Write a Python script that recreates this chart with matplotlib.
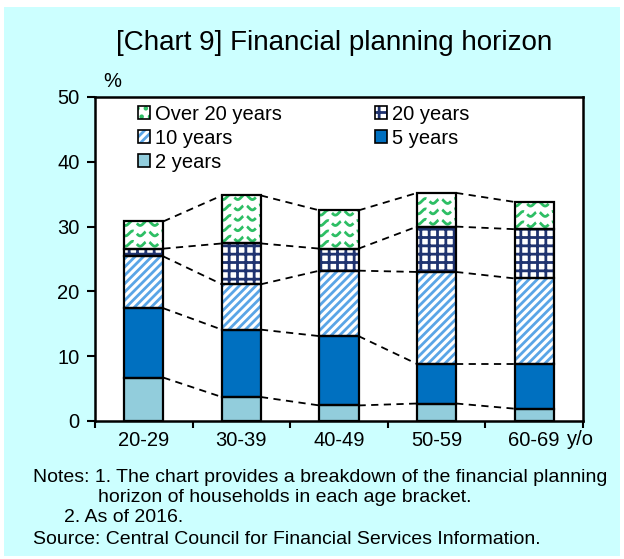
import numpy as np
import matplotlib.pyplot as plt
from matplotlib.patches import Patch, Rectangle

plt.rcParams['font.family'] = ['Liberation Sans', 'DejaVu Sans']
plt.rcParams['hatch.linewidth'] = 2.0

# ---------------------------------------------------------------------------
# DATA (% of households)
# ---------------------------------------------------------------------------
ages = ["20-29", "30-39", "40-49", "50-59", "60-69"]
two_yr = [6.7, 3.7, 2.4, 2.7, 1.9]
five_yr = [10.7, 10.4, 10.7, 6.1, 6.9]
ten_yr = [8.0, 7.0, 10.1, 14.2, 13.2]
twenty_yr = [1.2, 6.3, 3.4, 7.0, 7.6]
over_twenty = [4.2, 7.4, 5.9, 5.2, 4.2]

yticks = [0, 10, 20, 30, 40, 50]

# label, values, face colour, hatch, hatch colour
series = [
    ("2 years", two_yr, "#92CDDC", None, None),
    ("5 years", five_yr, "#0070C0", None, None),
    ("10 years", ten_yr, "white", "////", "#5AA5E6"),
    ("20 years", twenty_yr, "white", "++", "#1F3370"),
    ("Over 20 years", over_twenty, "white", "wave", "#2DBE64"),
]

BG = "#CCFFFF"
FS = 14.5

fig = plt.figure(figsize=(6.24, 5.59), dpi=100)
fig.patch.set_facecolor("white")
fig.patches.append(Rectangle((4 / 624, 3 / 559), 616 / 624, 549 / 559,
                             transform=fig.transFigure, facecolor=BG,
                             edgecolor="none", zorder=-10))

ax = fig.add_axes([95 / 624, 1 - 421 / 559, 488 / 624, 324 / 559])
ax.set_facecolor("white")

x = np.arange(len(ages))
w = 0.4
bottom = np.zeros(len(ages))
tops = []
handles = {}

for name, vals, face, hatch, hcol in series:
    vals = np.array(vals, dtype=float)
    if hatch is None:
        ax.bar(x, vals, w, bottom=bottom, color=face, linewidth=0, zorder=2)
        h = Patch(facecolor=face, edgecolor="black", linewidth=1.2)
    elif hatch == "wave":
        bars = ax.bar(x, vals, w, bottom=bottom, color="white", linewidth=0, zorder=2)
        # green wavy fill pattern, clipped to each bar
        for i, patch in enumerate(bars.patches):
            xs = np.linspace(x[i] - w / 2, x[i] + w / 2, 200)
            y0 = bottom[i] + 0.75
            while y0 < bottom[i] + vals[i]:
                ys = y0 + 0.38 * np.sin(2 * np.pi * (xs - x[i]) / 0.15)
                ln, = ax.plot(xs, ys, color=hcol, lw=2.0, dashes=(4, 1.5), zorder=2.5)
                ln.set_clip_path(patch)
                y0 += 1.6
        h = (Patch(facecolor="white", edgecolor=hcol, hatch="..", linewidth=0),
             Patch(facecolor="none", edgecolor="black", linewidth=1.2))
    else:
        ax.bar(x, vals, w, bottom=bottom, color="white", edgecolor=hcol,
               hatch=hatch, linewidth=0, zorder=2)
        h = (Patch(facecolor="white", edgecolor=hcol, hatch=hatch, linewidth=0),
             Patch(facecolor="none", edgecolor="black", linewidth=1.2))
    ax.bar(x, vals, w, bottom=bottom, fill=False, edgecolor="black",
           linewidth=1.6, zorder=3)
    bottom = bottom + vals
    tops.append(bottom.copy())
    handles[name] = h

# dashed connectors between adjacent bars
for top in tops:
    for i in range(len(ages) - 1):
        ax.plot([x[i] + w / 2, x[i + 1] - w / 2], [top[i], top[i + 1]],
                color="black", lw=1.3, dashes=(4, 3), zorder=1)

ax.set_xlim(-0.5, len(ages) - 0.5)
ax.set_ylim(0, 50)
ax.set_yticks(yticks)
ax.tick_params(axis="y", direction="out", length=6, width=1.5, labelsize=FS, pad=5)

ax.set_xticks(np.arange(-0.5, len(ages), 1))
ax.set_xticklabels([])
ax.set_xticks(x, minor=True)
ax.set_xticklabels(ages, minor=True)
ax.tick_params(axis="x", which="major", direction="out", length=5, width=1.5)
ax.tick_params(axis="x", which="minor", length=0, labelsize=FS, pad=7)

for s in ax.spines.values():
    s.set_linewidth(1.8)

ax.text(0.016, 1.02, "%", transform=ax.transAxes, fontsize=FS, ha="left", va="bottom")
ax.text(0.968, -0.058, "y/o", transform=ax.transAxes, fontsize=FS, ha="left", va="center")

order = ["Over 20 years", "10 years", "2 years", "20 years", "5 years"]
ax.legend([handles[k] for k in order], order, loc="upper left",
          bbox_to_anchor=(0.076, 0.995), frameon=False, ncol=2, fontsize=FS,
          handlelength=0.6, handleheight=0.6, handletextpad=0.25,
          columnspacing=4.6, labelspacing=0.25, borderaxespad=0.1,
          borderpad=0.2)

fig.text(0.535, 1 - 43 / 559, "[Chart 9] Financial planning horizon",
         fontsize=20, ha="center", va="center")

note_kw = dict(fontsize=14, va="center", ha="left")
fig.text(33 / 624, 1 - 477 / 559,
         "Notes: 1. The chart provides a breakdown of the financial planning", **note_kw)
fig.text(98 / 624, 1 - 497 / 559, "horizon of households in each age bracket.", **note_kw)
fig.text(64 / 624, 1 - 518 / 559, "2. As of 2016.", **note_kw)
fig.text(33 / 624, 1 - 540 / 559, "Source: Central Council for Financial Services Information.", **note_kw)

fig.savefig("out.png", dpi=100, facecolor=fig.get_facecolor())
